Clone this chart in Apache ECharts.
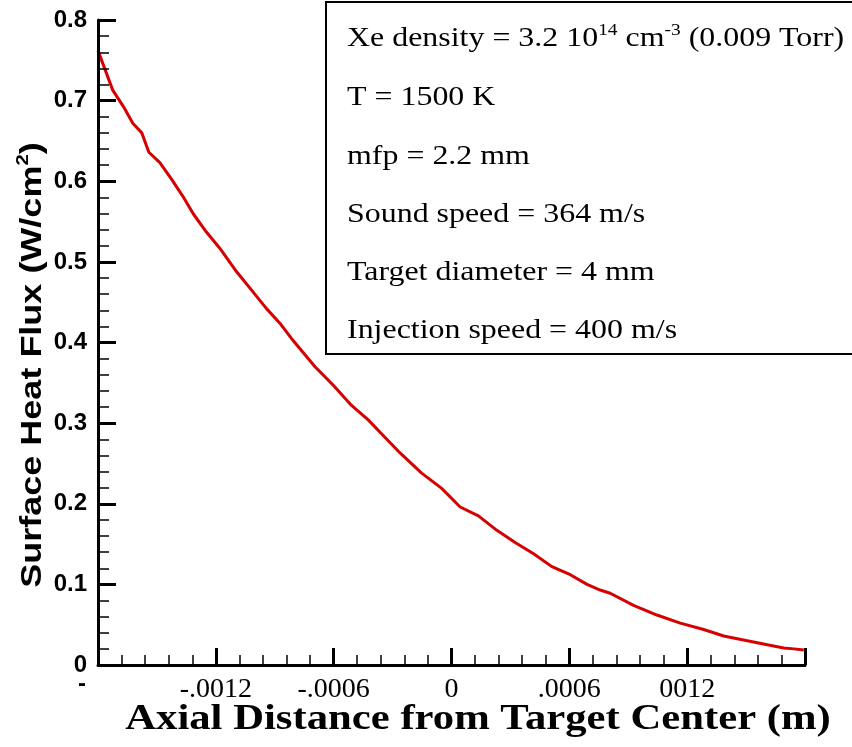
<!DOCTYPE html>
<html>
<head>
<meta charset="utf-8">
<script src="https://cdn.jsdelivr.net/npm/echarts@6/dist/echarts.min.js"></script>
<style>
  html, body { margin: 0; padding: 0; background: #fff; }
  #chart { width: 852px; height: 747px; }
</style>
</head>
<body>
<div id="chart"></div>
<script>
// Axial position along the target (m)
const axialDistance = [
  -0.00180, -0.001725, -0.001669, -0.001623, -0.001577, -0.001541, -0.001485,
  -0.001424, -0.001367, -0.001316, -0.001248, -0.001180, -0.001095, -0.001018,
  -0.000942, -0.000874, -0.000815, -0.000695, -0.000602, -0.000509, -0.000424,
  -0.000365, -0.000262, -0.000152, -0.000050, 0.000044, 0.000137, 0.000231,
  0.000324, 0.000418, 0.000511, 0.000605, 0.000690, 0.000757, 0.000808,
  0.000927, 0.001046, 0.001165, 0.001284, 0.001386, 0.001506, 0.001608,
  0.001692, 0.001743, 0.001794
];

// Surface heat flux (W/cm^2)
const heatFlux = [
  0.762, 0.713, 0.692, 0.672, 0.660, 0.636, 0.623,
  0.602, 0.581, 0.560, 0.537, 0.517, 0.488, 0.465,
  0.442, 0.424, 0.405, 0.370, 0.347, 0.322, 0.304,
  0.289, 0.263, 0.238, 0.219, 0.196, 0.185, 0.167,
  0.152, 0.138, 0.122, 0.112, 0.100, 0.093, 0.089,
  0.074, 0.062, 0.052, 0.044, 0.036, 0.030, 0.025,
  0.021, 0.020, 0.0186
];

// Tick labels of the axial axis
const xTickValues = [-0.0012, -0.0006, 0, 0.0006, 0.0012];
const xTickLabels = ['-.0012', '-.0006', '0', '.0006', '0012'];

// Run conditions listed in the box
const infoLines = [
  '{n|Xe density = 3.2 10}{s|14}{n| cm}{s|-3}{n| (0.009 Torr)}',
  '{n|T = 1500 K}',
  '{n|mfp = 2.2 mm}',
  '{n|Sound speed = 364 m/s}',
  '{n|Target diameter = 4 mm}',
  '{n|Injection speed = 400 m/s}'
];
const infoLineY = [39, 98, 157, 215, 273, 331];

const xTitle = 'Axial Distance from Target Center (m)';
const yTitle = '{t|Surface Heat Flux (W/cm}{s|2}{t|)}';

const seriesData = axialDistance.map((x, i) => [x, heatFlux[i]]);

const chart = echarts.init(document.getElementById('chart'), null, { renderer: 'canvas' });

const serif = "'Liberation Serif', 'Times New Roman', serif";
const sans = "'Liberation Sans', Arial, sans-serif";

const infoGraphics = infoLines.map((txt, i) => ({
  type: 'text',
  x: 347,
  y: infoLineY[i],
  scaleX: 1.14,
  z: 10,
  style: {
    text: txt,
    align: 'left',
    verticalAlign: 'middle',
    fill: '#000',
    rich: {
      n: { fontFamily: serif, fontSize: 28, lineHeight: 34, color: '#000' },
      s: { fontFamily: serif, fontSize: 17, lineHeight: 26, verticalAlign: 'top', color: '#000' }
    }
  }
}));

chart.setOption({
  animation: false,
  backgroundColor: '#fff',
  grid: {
    left: 98, right: 47, top: 20, bottom: 82,
    containLabel: false,
    outerBoundsMode: 'none'
  },
  xAxis: {
    type: 'value',
    min: -0.0018,
    max: 0.0018,
    interval: 0.0006,
    z: 5,
    axisLine: { show: true, onZero: false, lineStyle: { color: '#000', width: 3 } },
    axisTick: { show: true, inside: true, length: 17, lineStyle: { color: '#000', width: 3 } },
    minorTick: { show: true, splitNumber: 5, length: 10, lineStyle: { color: '#000', width: 1.5 } },
    splitLine: { show: false },
    axisLabel: {
      margin: 11,
      color: '#000',
      fontFamily: serif,
      fontSize: 28,
      formatter: (v) => {
        const k = xTickValues.findIndex(t => Math.abs(t - v) < 1e-9);
        return k >= 0 ? xTickLabels[k] : '';
      }
    }
  },
  yAxis: {
    type: 'value',
    min: 0,
    max: 0.8,
    interval: 0.1,
    z: 5,
    axisLine: { show: true, onZero: false, lineStyle: { color: '#000', width: 3 } },
    axisTick: { show: true, inside: true, length: 18, lineStyle: { color: '#000', width: 3 } },
    minorTick: { show: true, splitNumber: 5, length: 11, lineStyle: { color: '#000', width: 1.5 } },
    splitLine: { show: false },
    axisLabel: {
      margin: 11,
      color: '#000',
      fontFamily: sans,
      fontWeight: 'bold',
      fontSize: 24,
      formatter: (v) => (Math.abs(v) < 1e-9 ? '0' : v.toFixed(1))
    }
  },
  series: [{
    type: 'line',
    data: seriesData,
    showSymbol: false,
    clip: false,
    z: 2,
    lineStyle: { color: '#d60000', width: 3 },
    emphasis: { disabled: true }
  }],
  graphic: [
    {
      type: 'rect',
      z: 9,
      shape: { x: 326, y: 2, width: 600, height: 352 },
      style: { fill: '#fff', stroke: '#000', lineWidth: 2 }
    },
    ...infoGraphics,
    {
      type: 'text',
      x: 478,
      y: 720,
      scaleX: 1.22,
      style: {
        text: xTitle,
        align: 'center',
        verticalAlign: 'middle',
        fill: '#000',
        font: 'bold 35px ' + serif
      }
    },
    {
      type: 'text',
      x: 33,
      y: 365,
      rotation: Math.PI / 2,
      scaleX: 1.2,
      style: {
        text: yTitle,
        align: 'center',
        verticalAlign: 'middle',
        fill: '#000',
        rich: {
          t: { fontFamily: sans, fontWeight: 'bold', fontSize: 30, lineHeight: 36, color: '#000' },
          s: { fontFamily: sans, fontWeight: 'bold', fontSize: 17, lineHeight: 12, verticalAlign: 'top', color: '#000' }
        }
      }
    },
    {
      type: 'text',
      x: 82,
      y: 684,
      style: {
        text: '-',
        align: 'center',
        verticalAlign: 'middle',
        fill: '#000',
        font: 'bold 24px ' + sans
      }
    }
  ]
});
</script>
</body>
</html>
